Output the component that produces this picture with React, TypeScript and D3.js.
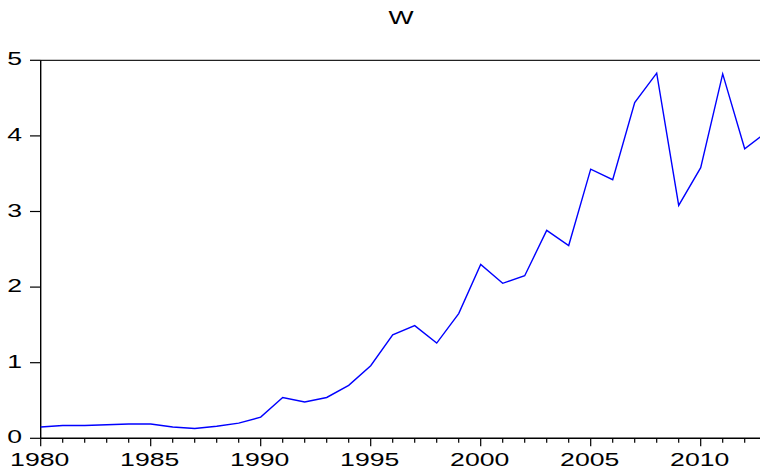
import React from "react";
import * as d3 from "d3";

const years: number[] = [
  1980, 1981, 1982, 1983, 1984, 1985, 1986, 1987, 1988, 1989,
  1990, 1991, 1992, 1993, 1994, 1995, 1996, 1997, 1998, 1999,
  2000, 2001, 2002, 2003, 2004, 2005, 2006, 2007, 2008, 2009,
  2010, 2011, 2012, 2013,
];
const wValues: number[] = [
  0.15, 0.17, 0.17, 0.18, 0.19, 0.19, 0.15, 0.13, 0.16, 0.2,
  0.28, 0.54, 0.48, 0.54, 0.7, 0.96, 1.37, 1.49, 1.26, 1.65,
  2.3, 2.05, 2.15, 2.75, 2.55, 3.56, 3.42, 4.44, 4.83, 3.08,
  3.58, 4.82, 3.83, 4.05,
];
const yTicks: number[] = [0, 1, 2, 3, 4, 5];
const xMajorTicks: number[] = [1980, 1985, 1990, 1995, 2000, 2005, 2010];
const title = "W";

const W = 760;
const H = 469;
const FONT = "'Liberation Sans', Arial, sans-serif";
const SX = 1.4;

export default function App() {
  const x = d3.scaleLinear().domain([1980, 2013]).range([40.7, 766.7]);
  const y = d3.scaleLinear().domain([0, 5]).range([438.3, 60.3]);
  const line = d3
    .line<number>()
    .x((_, i) => x(years[i]))
    .y((d) => y(d));
  const minorTicks = d3.range(1980, 2014);
  return (
    <svg
      width={W}
      height={H}
      style={{ position: "absolute", left: 0, top: 0, background: "#fff" }}
    >
      <rect x={0} y={0} width={W} height={H} fill="#fff" />
      {/* title */}
      <g transform={`translate(401,24) scale(${SX},1)`}>
        <text textAnchor="middle" fontFamily={FONT} fontSize={19} fill="#000">
          {title}
        </text>
      </g>
      {/* frame top */}
      <line x1={40.7} x2={W} y1={60.3} y2={60.3} stroke="#222" strokeWidth={1.2} />
      {/* y axis */}
      <line x1={40.7} x2={40.7} y1={60.3} y2={438.3} stroke="#000" strokeWidth={1.4} />
      {yTicks.map((t) => (
        <g key={"y" + t}>
          <line x1={30} x2={40.7} y1={y(t)} y2={y(t)} stroke="#000" strokeWidth={1.2} />
          <g transform={`translate(22,${y(t) + 5}) scale(${SX},1)`}>
            <text textAnchor="end" fontFamily={FONT} fontSize={19} fill="#000">
              {t}
            </text>
          </g>
        </g>
      ))}
      {/* x axis */}
      <line x1={40.7} x2={W} y1={438.3} y2={438.3} stroke="#000" strokeWidth={1.4} />
      {minorTicks.map((t) => {
        const major = xMajorTicks.includes(t);
        return (
          <line
            key={"m" + t}
            x1={x(t)}
            x2={x(t)}
            y1={438.3}
            y2={438.3 + (major ? 8 : 4.5)}
            stroke="#000"
            strokeWidth={1.2}
          />
        );
      })}
      {xMajorTicks.map((t) => (
        <g key={"x" + t} transform={`translate(${x(t) - 1},466) scale(${SX},1)`}>
          <text textAnchor="middle" fontFamily={FONT} fontSize={19} fill="#000">
            {t}
          </text>
        </g>
      ))}
      {/* series */}
      <path d={line(wValues) || ""} fill="none" stroke="#0000ff" strokeWidth={1.4} />
    </svg>
  );
}
